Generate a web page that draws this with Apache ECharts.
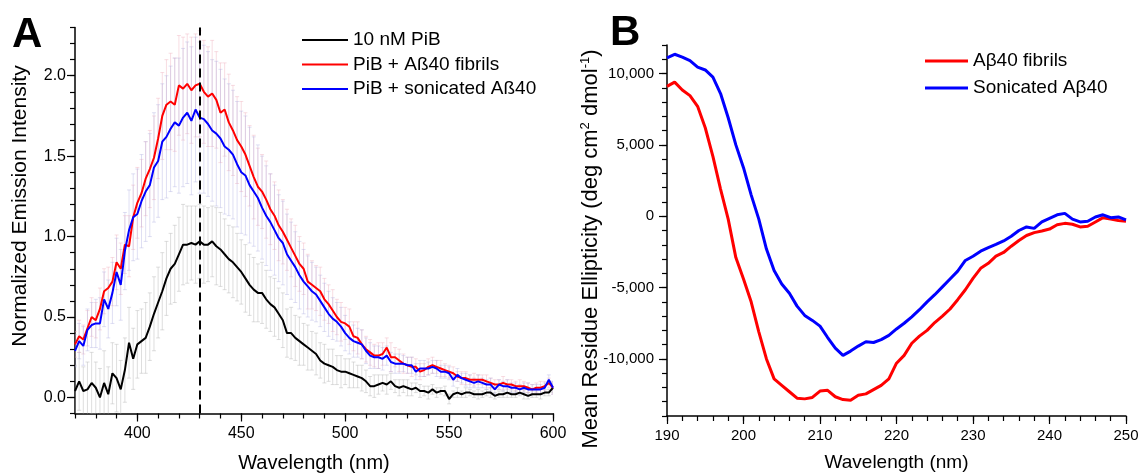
<!DOCTYPE html>
<html>
<head>
<meta charset="utf-8">
<script src="https://cdn.jsdelivr.net/npm/echarts@6.0.0/dist/echarts.min.js"></script>
<style>
  html, body { margin: 0; padding: 0; background: #fff; }
  #chart { width: 1139px; height: 473px; }
</style>
</head>
<body>
<div id="chart"></div>
<script>
// ---- panel A : PiB emission, 2 nm steps 370..600 nm ----
const waveStartA = 370, waveEndA = 600, waveStepA = 2
const peakLine = 430

const pibOnly = [
  0.04, 0.10, 0.04, 0.05, 0.09, 0.06, 0.00, 0.09, 0.02, 0.15, 0.12, 0.05, 0.17, 0.34, 0.24,
  0.33, 0.35, 0.37, 0.44, 0.52, 0.59, 0.66, 0.74, 0.80, 0.83, 0.89, 0.95, 0.95, 0.96, 0.95, 0.97,
  0.95, 0.95, 0.97, 0.94, 0.92, 0.89, 0.86, 0.84, 0.81, 0.78, 0.74, 0.70, 0.67, 0.65, 0.65, 0.61, 0.58, 0.56, 0.52, 0.48,
  0.40, 0.40, 0.37, 0.35, 0.33, 0.31, 0.29, 0.27, 0.23, 0.21, 0.20, 0.19, 0.17, 0.16, 0.16, 0.15, 0.14, 0.13, 0.12, 0.10,
  0.07, 0.07, 0.08, 0.09, 0.08, 0.10, 0.07, 0.06, 0.07, 0.06, 0.05, 0.06, 0.04, 0.04, 0.03, 0.05, 0.03, 0.04, 0.04, -0.01,
  0.02, 0.03, 0.02, 0.03, 0.03, 0.02, 0.02, 0.02, 0.03, 0.03, 0.01, 0.02, 0.02, 0.03, 0.02, 0.02, 0.03, 0.02, 0.01, 0.02, 0.02, 0.02, 0.03, 0.03, 0.06
]
const pibFibrils = [
  0.33, 0.38, 0.36, 0.43, 0.50, 0.48, 0.55, 0.66, 0.68, 0.72, 0.84, 0.80, 0.95, 0.94, 1.12,
  1.21, 1.27, 1.36, 1.42, 1.49, 1.61, 1.75, 1.82, 1.84, 1.82, 1.94, 1.92, 1.95, 1.91, 1.94, 1.95,
  1.90, 1.87, 1.89, 1.85, 1.77, 1.79, 1.71, 1.66, 1.60, 1.56, 1.51, 1.44, 1.37, 1.31, 1.28, 1.23, 1.17, 1.13, 1.07, 1.03,
  0.98, 0.93, 0.88, 0.83, 0.80, 0.72, 0.70, 0.68, 0.66, 0.61, 0.58, 0.54, 0.50, 0.47, 0.46, 0.44, 0.38, 0.37, 0.33, 0.30,
  0.28, 0.26, 0.26, 0.27, 0.31, 0.25, 0.25, 0.23, 0.21, 0.20, 0.19, 0.19, 0.16, 0.17, 0.19, 0.20, 0.19, 0.18, 0.17, 0.16,
  0.15, 0.13, 0.12, 0.12, 0.11, 0.11, 0.11, 0.11, 0.10, 0.09, 0.08, 0.08, 0.09, 0.08, 0.08, 0.07, 0.07, 0.07, 0.06, 0.05, 0.06, 0.06, 0.07, 0.09, 0.06
]
const pibSonicated = [
  0.29, 0.35, 0.32, 0.42, 0.45, 0.46, 0.46, 0.61, 0.55, 0.65, 0.78, 0.70, 0.91, 1.04, 1.12,
  1.14, 1.22, 1.28, 1.32, 1.43, 1.47, 1.59, 1.62, 1.67, 1.71, 1.69, 1.74, 1.77, 1.72, 1.79, 1.74,
  1.73, 1.70, 1.66, 1.64, 1.61, 1.56, 1.54, 1.51, 1.45, 1.40, 1.38, 1.32, 1.28, 1.24, 1.18, 1.13, 1.09, 1.04, 0.99, 0.96,
  0.89, 0.85, 0.81, 0.76, 0.72, 0.69, 0.66, 0.64, 0.60, 0.56, 0.52, 0.49, 0.47, 0.44, 0.40, 0.37, 0.35, 0.34, 0.33, 0.29,
  0.26, 0.25, 0.25, 0.24, 0.26, 0.22, 0.21, 0.21, 0.21, 0.20, 0.20, 0.16, 0.18, 0.18, 0.18, 0.19, 0.18, 0.16, 0.16, 0.15,
  0.11, 0.14, 0.12, 0.11, 0.10, 0.09, 0.10, 0.09, 0.08, 0.08, 0.05, 0.08, 0.07, 0.07, 0.06, 0.06, 0.05, 0.06, 0.05, 0.05, 0.05, 0.05, 0.06, 0.11, 0.06
]

// error bar half-lengths (same grid)
const errOnly = [
  0.16, 0.18, 0.15, 0.17, 0.19, 0.16, 0.18, 0.20, 0.17, 0.19, 0.21, 0.18, 0.20, 0.22, 0.19,
  0.21, 0.20, 0.22, 0.21, 0.23, 0.22, 0.24, 0.23, 0.22, 0.24, 0.23, 0.25, 0.24, 0.23, 0.24, 0.23,
  0.24, 0.23, 0.22, 0.24, 0.23, 0.22, 0.21, 0.22, 0.21, 0.20, 0.21, 0.19, 0.20, 0.18, 0.19, 0.18, 0.17, 0.18, 0.16, 0.17,
  0.15, 0.16, 0.14, 0.15, 0.13, 0.14, 0.12, 0.13, 0.11, 0.12, 0.10, 0.11, 0.09, 0.10, 0.08, 0.09, 0.08, 0.07, 0.08, 0.07,
  0.06, 0.07, 0.06, 0.05, 0.06, 0.05, 0.04, 0.05, 0.04, 0.05, 0.04, 0.03, 0.04, 0.03, 0.04, 0.03, 0.03, 0.02, 0.03, 0.03,
  0.02, 0.03, 0.02, 0.03, 0.02, 0.02, 0.03, 0.02, 0.02, 0.03, 0.02, 0.02, 0.02, 0.03, 0.02, 0.02, 0.02, 0.03, 0.02, 0.02, 0.02, 0.03, 0.02, 0.02, 0.03
]
const errFibrils = [
  0.08, 0.10, 0.09, 0.11, 0.12, 0.11, 0.13, 0.14, 0.13, 0.15, 0.17, 0.16, 0.18, 0.19, 0.20,
  0.22, 0.21, 0.23, 0.24, 0.26, 0.25, 0.27, 0.28, 0.30, 0.29, 0.31, 0.32, 0.31, 0.33, 0.32, 0.33,
  0.32, 0.31, 0.33, 0.30, 0.31, 0.29, 0.30, 0.28, 0.27, 0.28, 0.26, 0.25, 0.26, 0.24, 0.23, 0.24, 0.22, 0.21, 0.22, 0.20,
  0.19, 0.18, 0.19, 0.17, 0.16, 0.17, 0.15, 0.14, 0.15, 0.13, 0.12, 0.13, 0.11, 0.12, 0.10, 0.11, 0.09, 0.10, 0.09, 0.08,
  0.08, 0.07, 0.08, 0.07, 0.06, 0.09, 0.06, 0.07, 0.06, 0.05, 0.06, 0.05, 0.05, 0.04, 0.05, 0.05, 0.04, 0.05, 0.04, 0.04,
  0.04, 0.03, 0.04, 0.04, 0.03, 0.04, 0.03, 0.03, 0.04, 0.03, 0.03, 0.03, 0.04, 0.03, 0.03, 0.03, 0.04, 0.03, 0.03, 0.03, 0.03, 0.04, 0.03, 0.03, 0.04
]
const errSonicated = [
  0.10, 0.11, 0.12, 0.13, 0.14, 0.15, 0.16, 0.17, 0.18, 0.19, 0.21, 0.22, 0.24, 0.25, 0.27,
  0.28, 0.29, 0.31, 0.32, 0.34, 0.35, 0.36, 0.38, 0.39, 0.40, 0.42, 0.43, 0.44, 0.46, 0.45, 0.47,
  0.46, 0.45, 0.44, 0.45, 0.43, 0.42, 0.41, 0.40, 0.39, 0.38, 0.37, 0.36, 0.34, 0.33, 0.32, 0.31, 0.30, 0.28, 0.27, 0.26,
  0.25, 0.24, 0.22, 0.21, 0.20, 0.19, 0.18, 0.17, 0.16, 0.15, 0.14, 0.13, 0.12, 0.12, 0.11, 0.10, 0.10, 0.09, 0.09, 0.08,
  0.08, 0.07, 0.07, 0.07, 0.06, 0.06, 0.06, 0.06, 0.05, 0.05, 0.05, 0.05, 0.05, 0.05, 0.04, 0.04, 0.05, 0.04, 0.04, 0.04,
  0.04, 0.04, 0.03, 0.04, 0.04, 0.03, 0.04, 0.03, 0.03, 0.04, 0.03, 0.03, 0.03, 0.04, 0.03, 0.03, 0.03, 0.03, 0.04, 0.03, 0.03, 0.03, 0.03, 0.03, 0.04
]

// ---- panel B : CD spectra, 1 nm steps 190..250 nm ----
const waveStartB = 190, waveEndB = 250, waveStepB = 1
const cdFibrils = [
  9100, 9400, 8850, 8450, 7700, 6200, 4200, 1900, -200, -2900,
  -4400, -6000, -8100, -10000, -11400, -11850, -12300, -12750, -12800, -12700,
  -12250, -12200, -12650, -12850, -12900, -12550, -12450, -12150, -11850, -11400,
  -10300, -9750, -8900, -8400, -8000, -7450, -7000, -6500, -5850, -5150,
  -4350, -3650, -3300, -2800, -2540, -2100, -1700, -1350, -1150, -1040,
  -900, -600, -500, -560, -750, -700, -400, -100, -200, -300, -350
]
const cdSonicated = [
  11100, 11350, 11150, 10900, 10450, 10250, 9750, 8600, 6900, 5000,
  3400, 1500, -200, -2300, -3800, -4750, -5400, -6300, -6950, -7300,
  -7700, -8500, -9250, -9750, -9450, -9100, -8800, -8850, -8650, -8350,
  -7900, -7500, -7050, -6550, -6000, -5500, -4950, -4400, -3850, -3100,
  -2800, -2450, -2200, -1980, -1730, -1400, -1000, -750, -850, -400,
  -150, 100, 200, -200, -400, -350, -50, 100, -100, -50, -250
]

const majorTicksAx = [400, 450, 500, 550, 600]
const majorTicksAy = [0, 0.5, 1, 1.5, 2]
const majorTicksBx = [190, 200, 210, 220, 230, 240, 250]
const majorTicksBy = [-10000, -5000, 0, 5000, 10000]

const waveA = []
for (let w = waveStartA; w <= waveEndA; w += waveStepA) waveA.push(w)
const waveB = []
for (let w = waveStartB; w <= waveEndB; w += waveStepB) waveB.push(w)

const font = 'Liberation Sans'
const pairs = (xs, ys) => xs.map((x, i) => [x, ys[i]])
const triples = (xs, ys, es) => xs.map((x, i) => [x, ys[i], es[i]])

function errorBars(color){
  return function(params, api){
    const x = api.value(0), y = api.value(1), e = api.value(2)
    const hi = api.coord([x, y + e])
    const lo = api.coord([x, y - e])
    const st = { stroke: color, lineWidth: 1 }
    return {
      type: 'group',
      children: [
        { type: 'line', shape: { x1: hi[0], y1: hi[1], x2: lo[0], y2: lo[1] }, style: st },
        { type: 'line', shape: { x1: hi[0] - 2, y1: hi[1], x2: hi[0] + 2, y2: hi[1] }, style: st },
        { type: 'line', shape: { x1: lo[0] - 2, y1: lo[1], x2: lo[0] + 2, y2: lo[1] }, style: st }
      ]
    }
  }
}

function mainAxis(grid, min, max, interval, fontSize, margin, formatter, extra){
  return Object.assign({
    gridIndex: grid, type: 'value', min: min, max: max, interval: interval,
    axisLine: { onZero: false, lineStyle: { color: '#000', width: 1.5 } },
    axisTick: { length: 5, lineStyle: { color: '#000', width: 1.2 } },
    axisLabel: { fontSize: fontSize, margin: margin, color: '#000', fontFamily: font, formatter: formatter },
    splitLine: { show: false }
  }, extra)
}
function tickAxis(grid, min, max, ticks, position){
  return {
    gridIndex: grid, type: 'value', min: min, max: max, position: position,
    axisLine: { show: false, onZero: false },
    axisLabel: { show: false },
    splitLine: { show: false },
    axisTick: { show: true, length: 8, customValues: ticks, lineStyle: { color: '#000', width: 1.2 } }
  }
}

const chart = echarts.init(document.getElementById('chart'))
chart.setOption({
  animation: false,
  grid: [
    { left: 75, top: 27.5, width: 478, height: 386, outerBoundsMode: 'none' },
    { left: 667, top: 45, width: 459, height: 371, outerBoundsMode: 'none' }
  ],
  xAxis: [
    mainAxis(0, 370, 600, 10, 16, 12, v => v % 50 === 0 ? String(v) : '', {
      name: 'Wavelength (nm)', nameLocation: 'middle', nameGap: 40,
      nameTextStyle: { fontSize: 20, fontFamily: font, color: '#000' }
    }),
    mainAxis(1, 190, 250, 2, 15, 12, v => v % 10 === 0 ? String(v) : '', {
      name: 'Wavelength (nm)', nameLocation: 'middle', nameGap: 37,
      nameTextStyle: { fontSize: 19, fontFamily: font, color: '#000' }
    }),
    tickAxis(0, 370, 600, majorTicksAx, 'bottom'),
    tickAxis(1, 190, 250, majorTicksBx, 'bottom')
  ],
  yAxis: [
    mainAxis(0, -0.1, 2.3, 0.1, 16, 9, v => {
      const r = Math.round(v * 10)
      return r >= 0 && r % 5 === 0 ? (r / 10).toFixed(1) : ''
    }),
    mainAxis(1, -14000, 12000, 1000, 15, 13, v => v % 5000 === 0 ? v.toLocaleString('en-US') : ''),
    tickAxis(0, -0.1, 2.3, majorTicksAy, 'left'),
    tickAxis(1, -14000, 12000, majorTicksBy, 'left')
  ],
  legend: [
    {
      data: ['10 nM PiB', 'PiB + Aß40 fibrils', 'PiB + sonicated Aß40'],
      orient: 'vertical', left: 302, top: 30, padding: 0,
      icon: 'rect', itemWidth: 46, itemHeight: 2, itemGap: 4.5,
      textStyle: { fontSize: 19, lineHeight: 20, fontFamily: font, color: '#000' }
    },
    {
      data: ['Aβ40 fibrils', 'Sonicated Aβ40'],
      orient: 'vertical', left: 925, top: 51, padding: 0,
      icon: 'rect', itemWidth: 43, itemHeight: 3, itemGap: 7,
      textStyle: { fontSize: 19, lineHeight: 20, fontFamily: font, color: '#000' }
    }
  ],
  graphic: [
    { type: 'text', left: 12, top: 14, style: { text: 'A', font: 'bold 42px "Liberation Sans"', fill: '#000' } },
    { type: 'text', left: 610, top: 12, style: { text: 'B', font: 'bold 42px "Liberation Sans"', fill: '#000' } },
    {
      type: 'text', x: 20, y: 206, rotation: Math.PI / 2,
      style: { text: 'Normalized Emission Intensity', font: '21px "Liberation Sans"', fill: '#000', align: 'center', verticalAlign: 'middle' }
    },
    {
      type: 'text', x: 591, y: 249, rotation: Math.PI / 2,
      style: {
        text: '{t|Mean Residue Ellipticity (deg cm}{s|2}{t| dmol}{s|-1}{t|)}',
        fontSize: 22, fontFamily: font, fill: '#000', align: 'center', verticalAlign: 'middle',
        rich: {
          t: { fontSize: 22, fontFamily: font, fill: '#000', lineHeight: 25 },
          s: { fontSize: 13, fontFamily: font, fill: '#000', lineHeight: 14, verticalAlign: 'top' }
        }
      }
    }
  ],
  series: [
    { type: 'custom', xAxisIndex: 0, yAxisIndex: 0, clip: true, silent: true, z: 1,
      renderItem: errorBars('rgba(190,190,190,0.5)'), encode: { x: 0, y: 1 }, data: triples(waveA, pibOnly, errOnly) },
    { type: 'custom', xAxisIndex: 0, yAxisIndex: 0, clip: true, silent: true, z: 1,
      renderItem: errorBars('rgba(238,170,185,0.4)'), encode: { x: 0, y: 1 }, data: triples(waveA, pibFibrils, errFibrils) },
    { type: 'custom', xAxisIndex: 0, yAxisIndex: 0, clip: true, silent: true, z: 1,
      renderItem: errorBars('rgba(175,175,225,0.4)'), encode: { x: 0, y: 1 }, data: triples(waveA, pibSonicated, errSonicated) },
    {
      name: '10 nM PiB', type: 'line', xAxisIndex: 0, yAxisIndex: 0, symbol: 'none', z: 3,
      lineStyle: { color: '#000', width: 2 }, itemStyle: { color: '#000' },
      data: pairs(waveA, pibOnly),
      markLine: {
        silent: true, symbol: 'none', label: { show: false },
        lineStyle: { color: '#000', width: 2, type: [9, 5] },
        data: [{ xAxis: peakLine }]
      }
    },
    {
      name: 'PiB + Aß40 fibrils', type: 'line', xAxisIndex: 0, yAxisIndex: 0, symbol: 'none', z: 3,
      lineStyle: { color: '#f00', width: 2 }, itemStyle: { color: '#f00' },
      data: pairs(waveA, pibFibrils)
    },
    {
      name: 'PiB + sonicated Aß40', type: 'line', xAxisIndex: 0, yAxisIndex: 0, symbol: 'none', z: 3,
      lineStyle: { color: '#00f', width: 2 }, itemStyle: { color: '#00f' },
      data: pairs(waveA, pibSonicated)
    },
    {
      name: 'Aβ40 fibrils', type: 'line', xAxisIndex: 1, yAxisIndex: 1, symbol: 'none',
      lineStyle: { color: '#f00', width: 3 }, itemStyle: { color: '#f00' },
      data: pairs(waveB, cdFibrils)
    },
    {
      name: 'Sonicated Aβ40', type: 'line', xAxisIndex: 1, yAxisIndex: 1, symbol: 'none',
      lineStyle: { color: '#00f', width: 3 }, itemStyle: { color: '#00f' },
      data: pairs(waveB, cdSonicated)
    }
  ]
})
</script>
</body>
</html>
